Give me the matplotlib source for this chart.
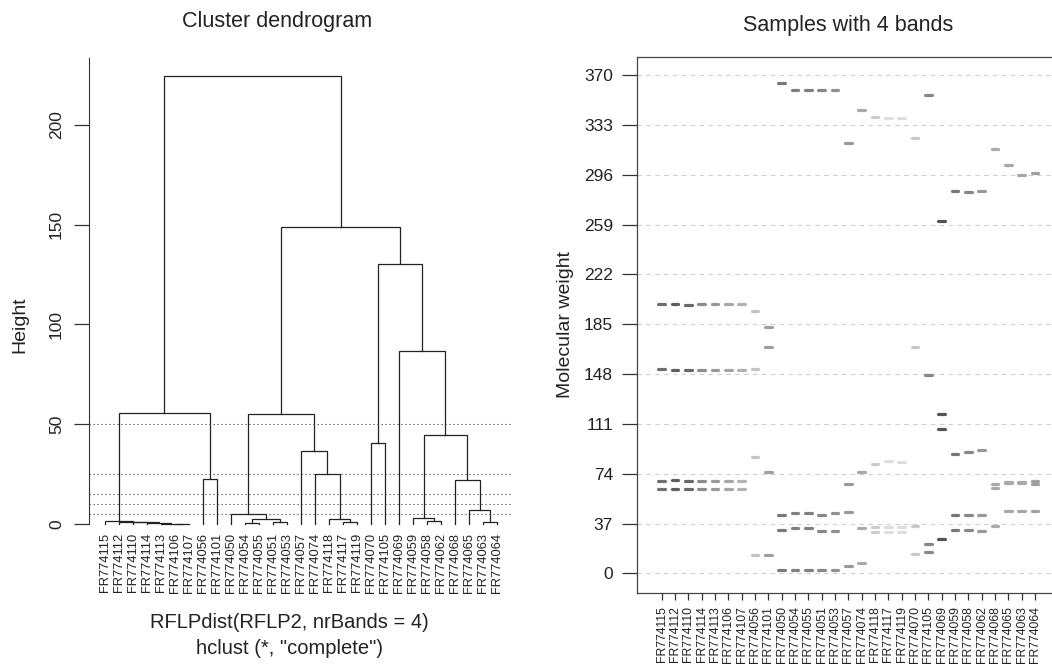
import numpy as np
import matplotlib.pyplot as plt

plt.rcParams['font.family'] = ['Liberation Sans', 'DejaVu Sans']

# leaf order of the dendrogram (same order used for the band plot)
samples = ['FR774115', 'FR774112', 'FR774110', 'FR774114', 'FR774113', 'FR774106',
           'FR774107', 'FR774056', 'FR774101', 'FR774050', 'FR774054', 'FR774055',
           'FR774051', 'FR774053', 'FR774057', 'FR774074', 'FR774118', 'FR774117',
           'FR774119', 'FR774070', 'FR774105', 'FR774069', 'FR774059', 'FR774058',
           'FR774062', 'FR774068', 'FR774065', 'FR774063', 'FR774064']

# hclust style merges: negative = leaf (1-based), positive = earlier merge row
merge_left = [-6, -5, -4, -3, -2, -1, -8, 6, -11, -13, 9, -10, -18, -17,
              -16, -15, 12, -20, -24, -23, -28, -27, -26, 20, -22, 18, 17, 8]
merge_right = [-7, 1, 2, 3, 4, 5, -9, 7, -12, -14, 10, 11, -19, 13,
               14, 15, 16, -21, -25, 19, -29, 21, 22, 23, 24, 25, 26, 27]
merge_height = [0.1, 0.2, 0.4, 0.8, 1.2, 1.6, 22.8, 55.8, 0.4, 1.0, 2.3, 5.2, 0.8, 2.3,
                25.0, 36.7, 55.3, 40.6, 1.7, 3.2, 1.2, 7.0, 22.0, 44.8, 86.5, 130.0,
                149.0, 224.4]
cut_heights = [50, 25, 15, 10, 5]
height_ticks = [0, 50, 100, 150, 200]

# band positions (molecular weight) per sample
band1 = [200, 200, 199, 200, 200, 200, 200, 195, 183, 364, 359, 359, 359, 359, 320,
         344, 339, 338, 338, 323, 355, 262, 284, 283, 284, 315, 303, 296, 297]
band2 = [152, 151, 151, 151, 151, 151, 151, 152, 168, 43.5, 44.5, 44.5, 43.5, 44.5, 66.5,
         75.5, 81.5, 83.5, 82.5, 168, 147.5, 118.5, 88.5, 90.5, 91.5, 66.5, 68, 68, 68.5]
band3 = [68.5, 69.5, 68.5, 68.5, 68.5, 68.5, 68.5, 86.5, 75.5, 32.5, 33.5, 33.5, 31.5, 31.5,
         45.5, 33.5, 34.5, 34.5, 34.5, 35.5, 21.5, 107.5, 43.5, 43.5, 43.5, 63.5, 67, 67, 66.5]
band4 = [63, 63, 63, 63, 63, 63, 63, 13.5, 13.5, 2.7, 2.7, 2.7, 2.7, 2.7, 5.7,
         7.6, 30.7, 30.7, 30.7, 14.6, 15.6, 25.5, 32.5, 32.5, 31.5, 35.5, 46.5, 46.5, 46.5]
band_grey = ['#707070', '#5e5e5e', '#686868', '#8c8c8c', '#999999', '#a6a6a6', '#b3b3b3',
             '#c4c4c4', '#a0a0a0', '#7a7a7a', '#808080', '#808080', '#888888', '#909090',
             '#999999', '#aaaaaa', '#cccccc', '#dedede', '#dedede', '#c8c8c8', '#888888',
             '#555555', '#777777', '#888888', '#999999', '#aaaaaa', '#a8a8a8', '#a8a8a8',
             '#a0a0a0']
mw_ticks = [0, 37, 74, 111, 148, 185, 222, 259, 296, 333, 370]

W, H = 1052, 670
fig = plt.figure(figsize=(W / 100, H / 100), dpi=100)
txt = '#222222'
axc = '#333333'

# ---------------- dendrogram ----------------
ax1 = fig.add_axes([89 / W, 1 - 542 / H, 424 / W, 484 / H])
n = len(samples)
node_x, node_h = [], []


def pos(k):
    if k < 0:
        return -k - 1, 0.0
    return node_x[k - 1], node_h[k - 1]


for l, r, h in zip(merge_left, merge_right, merge_height):
    xl, hl = pos(l)
    xr, hr = pos(r)
    ax1.plot([xl, xl, xr, xr], [hl, h, h, hr], color='#222222', lw=0.9,
             solid_joinstyle='miter')
    node_x.append((xl + xr) / 2)
    node_h.append(h)

for h in cut_heights:
    ax1.axhline(h, color='#333333', lw=0.8, ls=(0, (1, 2.6)))

ax1.set_xlim(-1.14, n - 1 + 1.14)
ax1.set_ylim(-9, 233.4)
for s in ['top', 'right', 'bottom']:
    ax1.spines[s].set_visible(False)
ax1.spines['left'].set_bounds(0, 233.4)
ax1.spines['left'].set_color(axc)
ax1.set_xticks([])
ax1.set_yticks(height_ticks)
ax1.tick_params(axis='y', length=11, width=0.9, color=axc, labelsize=12.5,
                labelcolor=txt, pad=7)
for lab in ax1.get_yticklabels():
    lab.set_rotation(90)
    lab.set_va('center')
for i, s in enumerate(samples):
    ax1.text(i, -4.3, s, rotation=90, ha='center', va='top', fontsize=9.3,
             color=txt, clip_on=False)

fig.text(277 / W, 1 - 21 / H, 'Cluster dendrogram', ha='center', va='center',
         fontsize=15.5, color=txt)
fig.text(19.5 / W, 1 - 325 / H, 'Height', rotation=90, ha='center', va='center',
         fontsize=14, color=txt)
fig.text(289.5 / W, 1 - 622 / H, 'RFLPdist(RFLP2, nrBands = 4)', ha='center',
         va='center', fontsize=14.5, color=txt)
fig.text(289.5 / W, 1 - 648 / H, 'hclust (*, "complete")', ha='center',
         va='center', fontsize=14.5, color=txt)

# ---------------- band plot ----------------
ax2 = fig.add_axes([636.7 / W, 1 - 593.3 / H, 423.3 / W, 536.3 / H])
xs = np.arange(n)
for t in mw_ticks:
    ax2.axhline(t, color='#cfcfcf', lw=0.8, ls=(0, (4, 4)), zorder=1)
for vals in [band1, band2, band3, band4]:
    lc = ax2.hlines(vals, xs - 0.24, xs + 0.24, colors=band_grey, lw=2.3, zorder=2)
    lc.set_capstyle('round')

ax2.set_xlim(-1.875, n - 1 + 1.875)
ax2.set_ylim(-14.8, 383.5)
for s in ax2.spines.values():
    s.set_color('#444444')
    s.set_linewidth(0.9)
ax2.set_yticks(mw_ticks)
ax2.tick_params(axis='y', length=11, width=0.9, color=axc, labelsize=12.5,
                labelcolor=txt, pad=6)
ax2.set_xticks(xs)
ax2.set_xticklabels(samples, rotation=90, fontsize=8.8, color=txt)
ax2.tick_params(axis='x', length=5, width=0.9, color=axc, pad=4)

fig.text(848 / W, 1 - 25 / H, 'Samples with 4 bands', ha='center', va='center',
         fontsize=15.5, color=txt)
fig.text(566 / W, 1 - 325 / H, 'Molecular weight', rotation=90, ha='center',
         va='center', fontsize=14, color=txt)

fig.savefig('out.png', dpi=100)
